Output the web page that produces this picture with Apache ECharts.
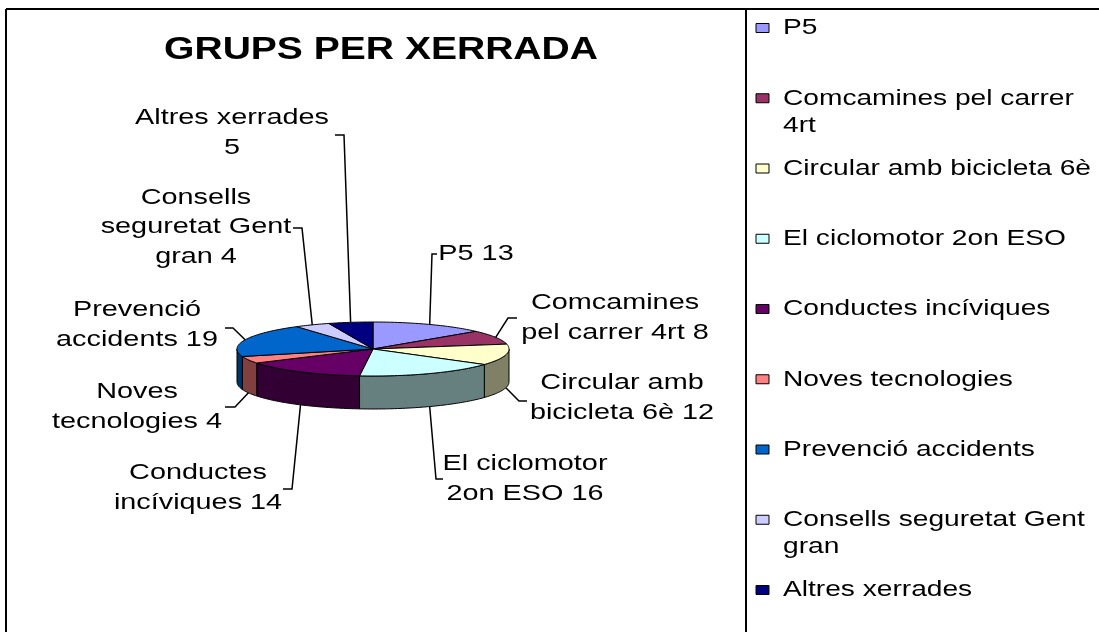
<!DOCTYPE html>
<html>
<head>
<meta charset="utf-8">
<script src="https://cdn.jsdelivr.net/npm/echarts@6/dist/echarts.min.js"></script>
<style>
html, body { margin: 0; padding: 0; background: #fff; }
#chart { width: 1099px; height: 632px; }
</style>
</head>
<body>
<div id="chart"></div>
<script>
// dades
var names = ['P5', 'Comcamines pel carrer 4rt', 'Circular amb bicicleta 6è', 'El ciclomotor 2on ESO',
    'Conductes incíviques', 'Noves tecnologies', 'Prevenció accidents', 'Consells seguretat Gent gran', 'Altres xerrades'];
var values = [13, 8, 12, 16, 14, 4, 19, 4, 5];
var colors = ['#9999ff', '#993366', '#ffffcc', '#ccffff', '#660066', '#ff8080', '#0066cc', '#ccccff', '#000080'];
var legendNames = ['P5', 'Comcamines pel carrer\n4rt', 'Circular amb bicicleta 6è', 'El ciclomotor 2on ESO',
    'Conductes incíviques', 'Noves tecnologies', 'Prevenció accidents', 'Consells seguretat Gent\ngran', 'Altres xerrades'];
var labelFormats = ['P5 {c}', 'Comcamines\npel carrer 4rt {c}', 'Circular amb\nbicicleta 6è {c}', 'El ciclomotor\n2on ESO {c}',
    'Conductes\nincíviques {c}', 'Noves\ntecnologies {c}', 'Prevenció\naccidents {c}', 'Consells\nseguretat Gent\ngran {c}', 'Altres xerrades\n{c}'];

var FONT = '"Liberation Sans", Arial, sans-serif';
// geometria del pastis (el·lipse + gruix)
var cx = 373, cy = 349, rx = 136, ry = 27, depth = 33;
// posicio de les etiquetes respecte al centre: colze, tram horitzontal, centre del text
var labelLayout = [
    {elbow: [59, -95], stub: 5, text: [103, -95]},
    {elbow: [135, -31], stub: 9, text: [242, -31]},
    {elbow: [146, 52], stub: 8, text: [249, 49]},
    {elbow: [63, 130], stub: 7, text: [152, 130]},
    {elbow: [-81, 140], stub: -9, text: [-175, 139]},
    {elbow: [-138, 58], stub: -10, text: [-236, 58]},
    {elbow: [-140, -21], stub: -8, text: [-236, -24]},
    {elbow: [-71, -121], stub: -9, text: [-177, -122]},
    {elbow: [-29, -214], stub: -9, text: [-141, -216]}
];

var total = values.reduce(function (a, b) { return a + b; }, 0);
var startAngles = [], endAngles = [];
var acc = 0;
values.forEach(function (v) {
    startAngles.push(acc / total * 2 * Math.PI);
    acc += v;
    endAngles.push(acc / total * 2 * Math.PI);
});

function pt(a, dy) {
    return [cx + rx * Math.sin(a), cy - ry * Math.cos(a) + (dy || 0)];
}
function arc(a0, a1, dy) {
    var n = Math.max(2, Math.ceil((a1 - a0) / 0.02));
    var pts = [];
    for (var k = 0; k <= n; k++) pts.push(pt(a0 + (a1 - a0) * k / n, dy));
    return pts;
}
function shade(hex, f) {
    var n = parseInt(hex.slice(1), 16);
    var r = Math.round(((n >> 16) & 255) * f), g = Math.round(((n >> 8) & 255) * f), b = Math.round((n & 255) * f);
    return 'rgb(' + r + ',' + g + ',' + b + ')';
}

function renderSide(params, api) {
    var i = params.dataIndex;
    var s = Math.max(startAngles[i], Math.PI / 2), e = Math.min(endAngles[i], 3 * Math.PI / 2);
    if (e <= s) return null;
    var pts = arc(s, e, 0).concat(arc(s, e, depth).reverse());
    return {
        type: 'polygon',
        shape: {points: pts},
        style: {fill: shade(colors[i], 0.5), stroke: '#000', lineWidth: 1}
    };
}
function renderTop(params, api) {
    var i = params.dataIndex;
    var pts = [[cx, cy]].concat(arc(startAngles[i], endAngles[i], 0));
    return {
        type: 'polygon',
        shape: {points: pts},
        style: {fill: colors[i], stroke: '#000', lineWidth: 1}
    };
}
function renderLabel(params, api) {
    var i = params.dataIndex;
    var mid = (startAngles[i] + endAngles[i]) / 2;
    var p = pt(mid, Math.cos(mid) < 0 ? depth : 0);
    var L = labelLayout[i];
    var ex = cx + L.elbow[0], ey = cy + L.elbow[1];
    return {
        type: 'group',
        children: [
            {
                type: 'polyline',
                shape: {points: [p, [ex, ey], [ex + L.stub, ey]]},
                style: {stroke: '#000', lineWidth: 1.5, fill: 'none'}
            },
            {
                type: 'text',
                x: cx + L.text[0],
                y: cy + L.text[1],
                scaleX: 1.31,
                style: {
                    text: labelFormats[i].replace('{c}', api.value(0)),
                    fontFamily: FONT, fontSize: 22, lineHeight: 29.5,
                    align: 'center', verticalAlign: 'middle', fill: '#000'
                }
            }
        ]
    };
}

var seriesData = values.map(function (v, i) { return {name: names[i], value: v}; });

// llegenda
var legendEls = [];
names.forEach(function (n, i) {
    var y = 28 + i * 70.25;
    legendEls.push({
        type: 'rect',
        shape: {x: 756, y: y - 4.5, width: 13, height: 9},
        style: {fill: colors[i], stroke: '#000', lineWidth: 1}
    });
    legendEls.push({
        type: 'text',
        x: 783, y: y - 13.5,
        scaleX: 1.24,
        style: {
            text: legendNames[i], fontFamily: FONT, fontSize: 22.7, lineHeight: 27,
            align: 'left', verticalAlign: 'top', fill: '#000'
        }
    });
});

var myChart = echarts.init(document.getElementById('chart'));
var option = {
    animation: false,
    backgroundColor: '#fff',
    graphic: [
        {type: 'line', shape: {x1: 6, y1: 9, x2: 1099, y2: 9}, style: {stroke: '#000', lineWidth: 2}},
        {type: 'line', shape: {x1: 6, y1: 9, x2: 6, y2: 632}, style: {stroke: '#000', lineWidth: 2}},
        {type: 'line', shape: {x1: 746, y1: 9, x2: 746, y2: 632}, style: {stroke: '#000', lineWidth: 2}},
        {
            type: 'text', x: 381, y: 50, scaleX: 1.22,
            style: {
                text: 'GRUPS PER XERRADA', fontFamily: FONT, fontSize: 32, fontWeight: 'bold',
                align: 'center', verticalAlign: 'middle', fill: '#000'
            }
        }
    ].concat(legendEls),
    series: [
        {type: 'custom', name: 'costat', coordinateSystem: 'none', renderItem: renderSide, data: seriesData, z: 1},
        {type: 'custom', name: 'grups', coordinateSystem: 'none', renderItem: renderTop, data: seriesData, z: 2},
        {type: 'custom', name: 'etiquetes', coordinateSystem: 'none', renderItem: renderLabel, data: seriesData, z: 3}
    ]
};
myChart.setOption(option);
</script>
</body>
</html>
